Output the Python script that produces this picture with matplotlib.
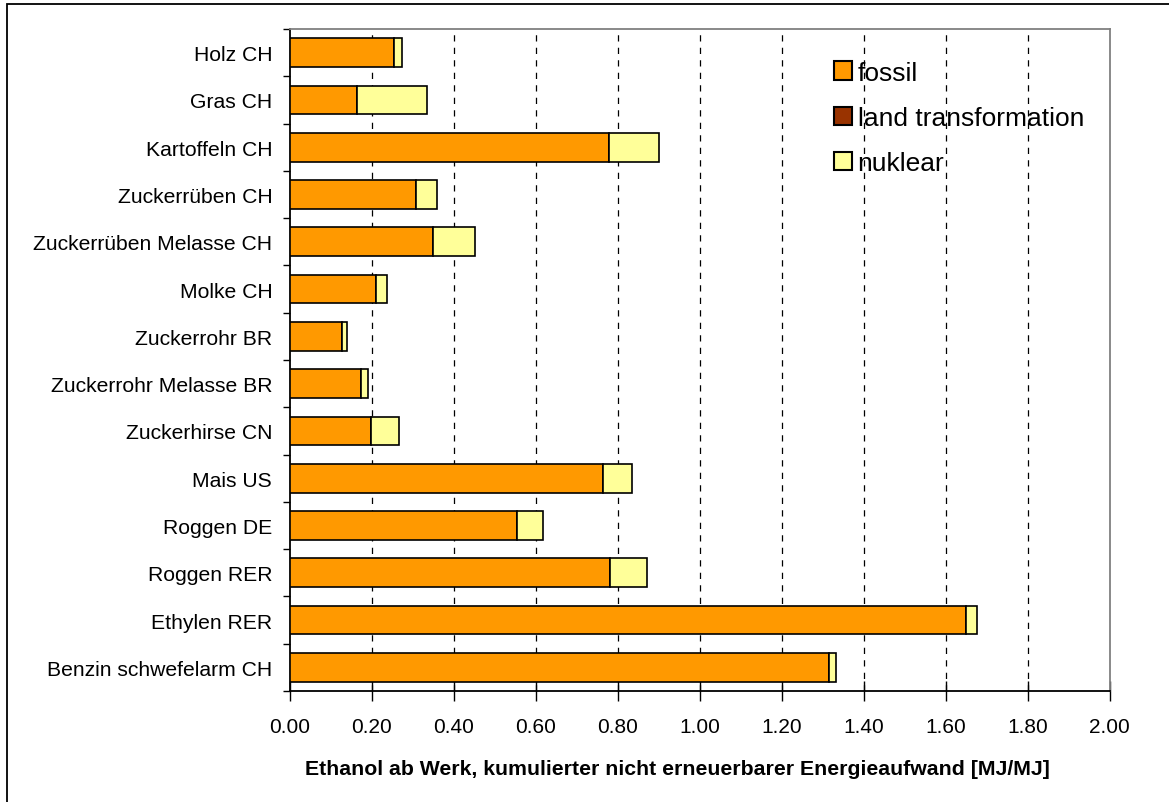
import matplotlib
matplotlib.use("Agg")
import matplotlib.pyplot as plt
from matplotlib.patches import Patch, Rectangle
import numpy as np

plt.rcParams['font.family'] = ['Liberation Sans', 'DejaVu Sans']

categories = [
    "Holz CH", "Gras CH", "Kartoffeln CH", "Zuckerrüben CH",
    "Zuckerrüben Melasse CH", "Molke CH", "Zuckerrohr BR",
    "Zuckerrohr Melasse BR", "Zuckerhirse CN", "Mais US", "Roggen DE",
    "Roggen RER", "Ethylen RER", "Benzin schwefelarm CH",
]
fossil = [0.255, 0.165, 0.780, 0.308, 0.351, 0.210, 0.127, 0.174,
          0.199, 0.765, 0.554, 0.782, 1.649, 1.316]
land_transformation = [0.0, 0.0, 0.0, 0.0, 0.0, 0.0, 0.0, 0.0,
                       0.0, 0.0, 0.0, 0.0, 0.0, 0.0]
nuklear = [0.020, 0.170, 0.122, 0.051, 0.101, 0.027, 0.013, 0.018,
           0.069, 0.070, 0.065, 0.089, 0.027, 0.016]
series_labels = ["fossil", "land transformation", "nuklear"]
series_colors = ["#FF9900", "#993300", "#FFFF99"]
x_ticks = [0.0, 0.2, 0.4, 0.6, 0.8, 1.0, 1.2, 1.4, 1.6, 1.8, 2.0]
x_label = "Ethanol ab Werk, kumulierter nicht erneuerbarer Energieaufwand [MJ/MJ]"

W, H = 1169, 803
fig = plt.figure(figsize=(W / 100, H / 100), dpi=100)
fig.patch.set_facecolor("white")

# outer chart frame
fig.patches.append(Rectangle((7 / W, -0.1), 1.2, 1 - 5 / H + 0.1,
                             transform=fig.transFigure, fill=False,
                             edgecolor="black", linewidth=1.3, zorder=0))

ax = fig.add_axes([289.5 / W, 111 / H, 820 / W, 662 / H])

y = np.arange(len(categories))
bar_h = 0.61
left = np.zeros(len(categories))
for vals, color in zip([fossil, land_transformation, nuklear], series_colors):
    vals = np.array(vals)
    ax.barh(y, vals, left=left, height=bar_h, color=color,
            edgecolor="black", linewidth=1.2, zorder=3)
    left = left + vals

ax.set_xlim(0, 2.0)
ax.set_ylim(len(categories) - 0.5, -0.5)

# dashed vertical gridlines
for xv in x_ticks[1:-1]:
    ax.axvline(xv, color="black", linestyle=(0, (5, 5)), linewidth=0.9,
               zorder=1)

ax.set_xticks(x_ticks)
ax.set_xticklabels([f"{v:.2f}" for v in x_ticks], fontsize=15)
ax.tick_params(axis="x", direction="inout", length=14, width=1.0,
               pad=12, colors="black")

# category boundary ticks, labels centred between them
ax.set_yticks(np.arange(len(categories) + 1) - 0.5)
ax.set_yticklabels([])
ax.tick_params(axis="y", which="major", direction="out", length=5,
               width=1.0)
ax.set_yticks(y, minor=True)
ax.set_yticklabels(categories, minor=True, fontsize=15.2)
ax.tick_params(axis="y", which="minor", length=0, pad=12.5)

for side in ("left", "bottom"):
    ax.spines[side].set_color("black")
    ax.spines[side].set_linewidth(1.3)
for side in ("top", "right"):
    ax.spines[side].set_color("#808080")
    ax.spines[side].set_linewidth(1.3)

fig.text(305 / W, 1 - 775 / H, x_label, fontsize=15.3, fontweight="bold",
         ha="left", va="baseline")

handles = [Patch(facecolor=c, edgecolor="black", linewidth=1.5)
           for c in series_colors]
ax.legend(handles, series_labels, loc="upper left",
          bbox_to_anchor=(0.6515, 0.968), frameon=False, fontsize=19,
          handlelength=0.68, handleheight=0.68, handletextpad=0.2,
          labelspacing=0.8, borderaxespad=0)

fig.savefig("out.png", dpi=100)
